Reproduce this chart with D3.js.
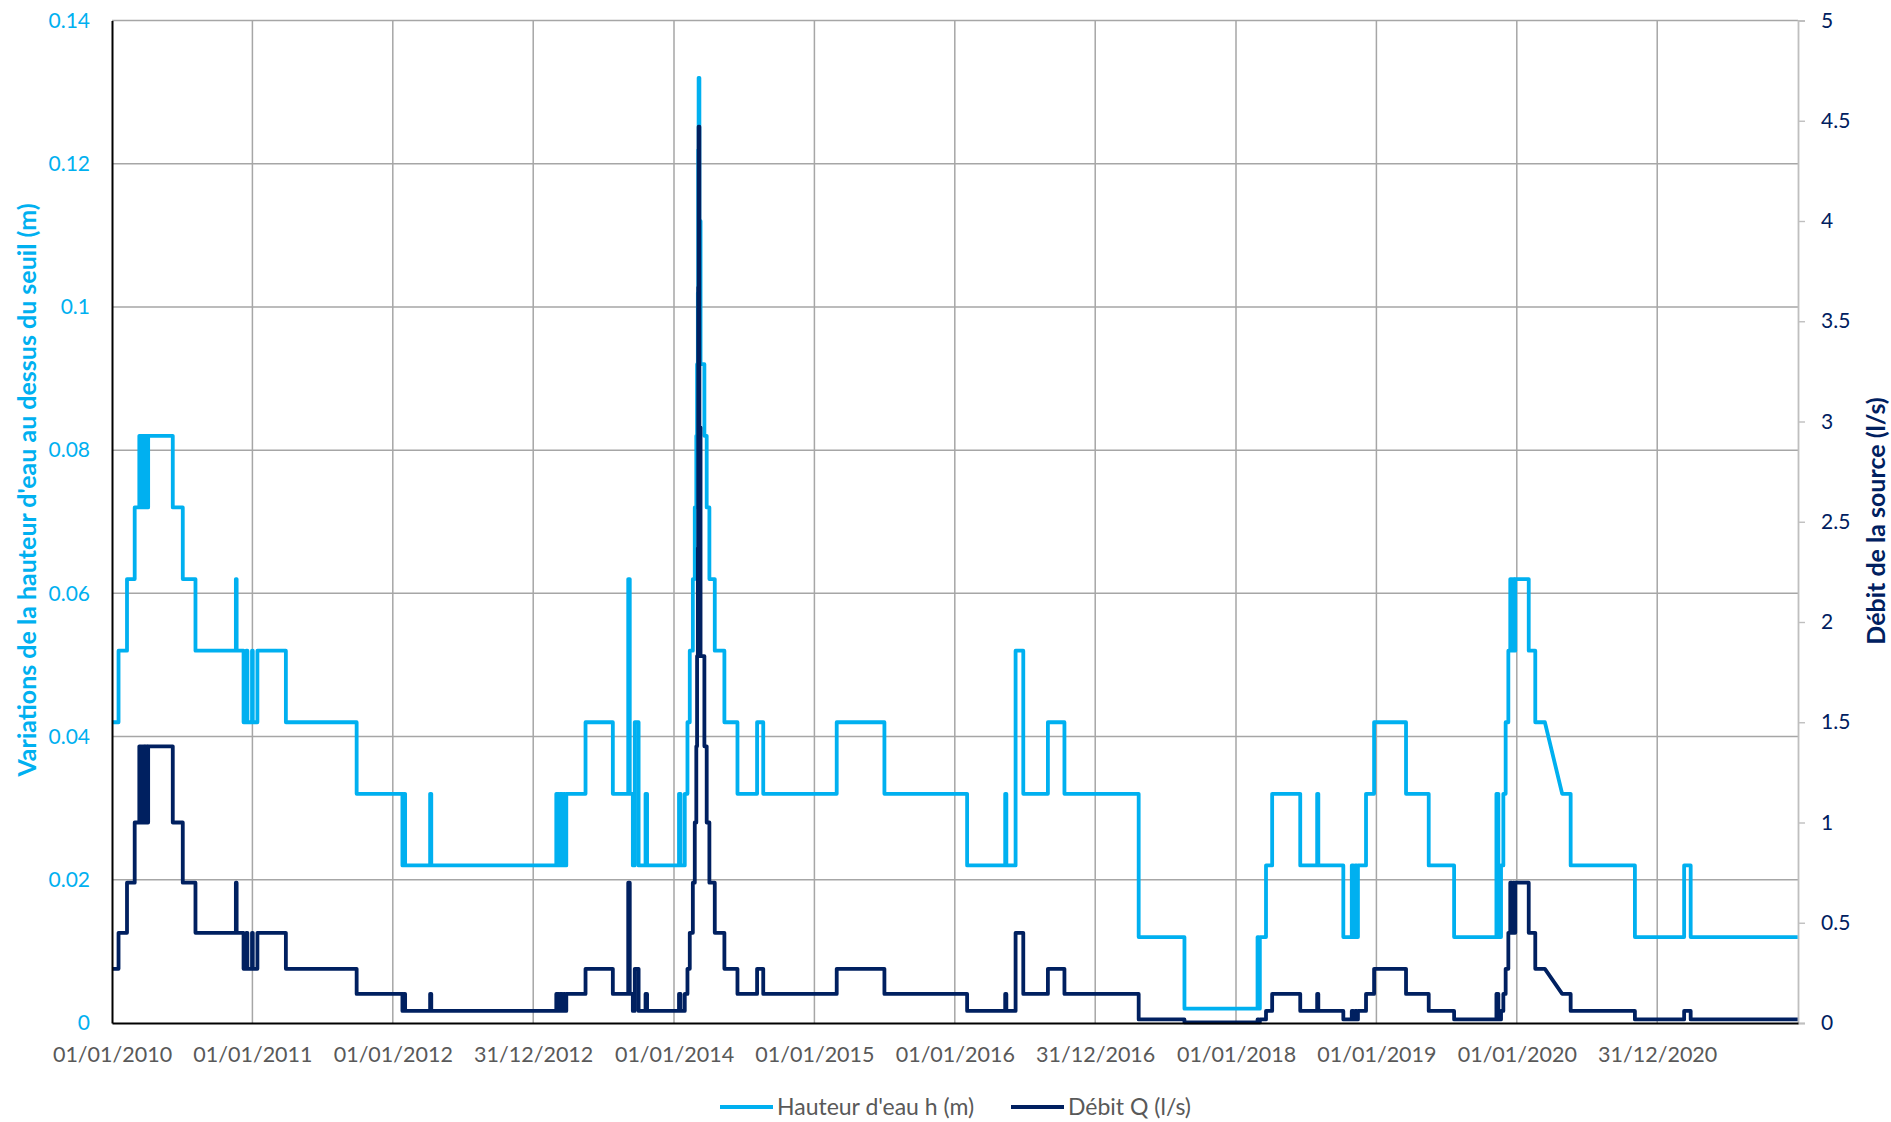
<!DOCTYPE html>
<html>
<head>
<meta charset="utf-8">
<script src="https://cdn.jsdelivr.net/npm/d3@7"></script>
<style>
body { margin: 0; background: #fff; }
text { font-family: Lato, "Open Sans", sans-serif; }
</style>
</head>
<body>
<script>
// change points of the record (the value holds until the next date)
var dates = [
  "2010-01-01","2010-01-18","2010-02-09","2010-03-01","2010-03-13","2010-03-18","2010-03-22","2010-03-26","2010-03-29","2010-04-02",
  "2010-04-05","2010-06-08","2010-07-04","2010-08-06","2010-11-19","2010-11-21","2010-12-09","2010-12-16","2010-12-19","2010-12-31",
  "2011-01-02","2011-01-14","2011-03-29","2011-09-29","2012-01-26","2012-01-30","2012-02-02","2012-04-07","2012-04-10","2013-03-01",
  "2013-03-08","2013-03-12","2013-03-17","2013-03-20","2013-03-24","2013-03-27","2013-05-16","2013-07-26","2013-09-04","2013-09-08",
  "2013-09-16","2013-09-21","2013-10-01","2013-10-19","2013-10-23","2014-01-14","2014-01-18","2014-01-29","2014-02-05","2014-02-11",
  "2014-02-19","2014-02-24","2014-02-28","2014-03-02","2014-03-04","2014-03-05","2014-03-06","2014-03-08","2014-03-11","2014-03-21",
  "2014-03-27","2014-04-03","2014-04-17","2014-05-12","2014-06-15","2014-08-05","2014-08-21","2015-02-28","2015-07-02","2016-02-02",
  "2016-05-11","2016-05-14","2016-06-07","2016-06-27","2016-08-30","2016-10-12","2017-04-23","2017-08-20","2018-02-26","2018-03-01",
  "2018-03-04","2018-03-20","2018-04-05","2018-06-17","2018-07-31","2018-08-03","2018-10-07","2018-10-29","2018-11-02","2018-11-07",
  "2018-11-11","2018-11-14","2018-12-05","2018-12-26","2019-03-19","2019-05-17","2019-07-22","2019-11-09","2019-11-14","2019-11-21",
  "2019-11-27","2019-12-03","2019-12-10","2019-12-15","2019-12-19","2019-12-23","2019-12-25","2019-12-28","2020-02-01","2020-02-18",
  "2020-03-14","2020-04-28","2020-05-20","2020-11-03","2021-03-11","2021-03-28","2021-12-31"
];

var hauteur = [
  0.042,0.052,0.062,0.072,0.082,0.072,0.082,0.072,0.082,0.072,
  0.082,0.072,0.062,0.052,0.062,0.052,0.042,0.052,0.042,0.052,
  0.042,0.052,0.042,0.032,0.022,0.032,0.022,0.032,0.022,0.032,
  0.022,0.032,0.022,0.032,0.022,0.032,0.042,0.032,0.062,0.032,
  0.022,0.042,0.022,0.032,0.022,0.032,0.022,0.032,0.042,0.052,
  0.062,0.072,0.082,0.092,0.102,0.122,0.132,0.112,0.092,0.082,
  0.072,0.062,0.052,0.042,0.032,0.042,0.032,0.042,0.032,0.022,
  0.032,0.022,0.052,0.032,0.042,0.032,0.012,0.002,0.012,0.002,
  0.012,0.022,0.032,0.022,0.032,0.022,0.012,0.022,0.012,0.022,
  0.012,0.022,0.032,0.042,0.032,0.022,0.012,0.032,0.012,0.022,
  0.032,0.042,0.052,0.062,0.052,0.062,0.052,0.062,0.052,0.042,
  0.042,0.032,0.022,0.012,0.022,0.012,0.012
];

var debit = [
  0.27,0.45,0.70,1.0,1.38,1.0,1.38,1.0,1.38,1.0,
  1.38,1.0,0.70,0.45,0.70,0.45,0.27,0.45,0.27,0.45,
  0.27,0.45,0.27,0.145,0.06,0.145,0.06,0.145,0.06,0.145,
  0.06,0.145,0.06,0.145,0.06,0.145,0.27,0.145,0.70,0.145,
  0.06,0.27,0.06,0.145,0.06,0.145,0.06,0.145,0.27,0.45,
  0.70,1.0,1.38,1.83,2.37,3.67,4.47,2.97,1.83,1.38,
  1.0,0.70,0.45,0.27,0.145,0.27,0.145,0.27,0.145,0.06,
  0.145,0.06,0.45,0.145,0.27,0.145,0.018,0.003,0.018,0.003,
  0.018,0.06,0.145,0.06,0.145,0.06,0.018,0.06,0.018,0.06,
  0.018,0.06,0.145,0.27,0.145,0.06,0.018,0.145,0.018,0.06,
  0.145,0.27,0.45,0.70,0.45,0.70,0.45,0.70,0.45,0.27,
  0.27,0.145,0.06,0.018,0.06,0.018,0.018
];

// where the record has a gap, Excel joins the points with a straight line
var rampDates = ["2020-04-28"];

var xTickLabels = ["01/01/2010","01/01/2011","01/01/2012","31/12/2012","01/01/2014","01/01/2015",
                   "01/01/2016","31/12/2016","01/01/2018","01/01/2019","01/01/2020","31/12/2020"];
var hTicks = [0, 0.02, 0.04, 0.06, 0.08, 0.1, 0.12, 0.14];
var qTicks = [0, 0.5, 1, 1.5, 2, 2.5, 3, 3.5, 4, 4.5, 5];

var seriesNames = ["Hauteur d'eau h (m)", "Débit Q (l/s)"];
var colH = "#00b0f0", colQ = "#002060";

var svg = d3.select("body")
    .append("svg")
    .attr("width", "1891")
    .attr("height", "1122")
    .style("display", "block");
var margin = {top: 20.5, right: 93, bottom: 99, left: 112};
var width = +svg.attr("width") - margin.left - margin.right;
var height = +svg.attr("height") - margin.top - margin.bottom;
var g = svg.append("g").attr("transform", "translate(" + margin.left + "," + margin.top + ")");

var parseDay = d3.utcParse("%Y-%m-%d");
var parseLabel = d3.utcParse("%d/%m/%Y");
var fmtNum = d3.format("~g");

var x = d3.scaleUtc()
    .domain([parseDay("2010-01-01"), parseDay("2022-01-01")])
    .range([0, width]);
var yH = d3.scaleLinear().domain([0, 0.14]).range([height, 0]);
var yQ = d3.scaleLinear().domain([0, 5]).range([height, 0]);

var xTicks = xTickLabels.map(function(s) { return parseLabel(s); });

// gridlines
g.append("g")
    .selectAll("line.h")
    .data(hTicks.slice(1))
    .enter().append("line")
    .attr("x1", 0).attr("x2", width)
    .attr("y1", function(d) { return yH(d); })
    .attr("y2", function(d) { return yH(d); })
    .attr("stroke", "#a6a6a6")
    .attr("stroke-width", 1.5);
g.append("g")
    .selectAll("line.v")
    .data(xTicks.slice(1))
    .enter().append("line")
    .attr("x1", function(d) { return x(d); })
    .attr("x2", function(d) { return x(d); })
    .attr("y1", 0).attr("y2", height)
    .attr("stroke", "#a6a6a6")
    .attr("stroke-width", 1.5);

// step lines
function stepPoints(vals) {
    var pts = [];
    dates.forEach(function(d, i) {
        var t = parseDay(d);
        if (i > 0 && rampDates.indexOf(d) < 0) pts.push([t, vals[i - 1]]);
        pts.push([t, vals[i]]);
    });
    return pts;
}

var lineH = d3.line()
    .x(function(p) { return x(p[0]); })
    .y(function(p) { return yH(p[1]); });
var lineQ = d3.line()
    .x(function(p) { return x(p[0]); })
    .y(function(p) { return yQ(p[1]); });

// right axis (grey, with outer ticks)
var yAxisRight = d3.axisRight(yQ)
    .tickValues(qTicks)
    .tickSize(7)
    .tickPadding(16)
    .tickFormat(fmtNum);
var ra = g.append("g")
    .attr("transform", "translate(" + width + ",0)")
    .call(yAxisRight);
ra.select(".domain").attr("stroke", "#bfbfbf").attr("stroke-width", 1.8);
ra.selectAll(".tick line").attr("stroke", "#bfbfbf").attr("stroke-width", 1.4);
ra.selectAll("text")
    .attr("fill", colQ)
    .style("font-size", "21px");

g.append("path")
    .datum(stepPoints(hauteur))
    .attr("d", lineH)
    .attr("fill", "none")
    .attr("stroke", colH)
    .attr("stroke-width", 3.8)
    .attr("stroke-linejoin", "round");

g.append("path")
    .datum(stepPoints(debit))
    .attr("d", lineQ)
    .attr("fill", "none")
    .attr("stroke", colQ)
    .attr("stroke-width", 3.8)
    .attr("stroke-linejoin", "round");

// left axis
var yAxisLeft = d3.axisLeft(yH)
    .tickValues(hTicks)
    .tickSize(0)
    .tickPadding(22)
    .tickFormat(fmtNum);
var la = g.append("g").call(yAxisLeft);
la.select(".domain").attr("stroke", "#000").attr("stroke-width", 2);
la.selectAll("text")
    .attr("fill", colH)
    .style("font-size", "21px");

// bottom axis
var xAxis = d3.axisBottom(x)
    .tickValues(xTicks)
    .tickSize(0)
    .tickPadding(24)
    .tickFormat(d3.utcFormat("%d/%m/%Y"));
var xa = g.append("g")
    .attr("transform", "translate(0," + height + ")")
    .call(xAxis);
xa.select(".domain").attr("stroke", "#000").attr("stroke-width", 2);
xa.selectAll("text")
    .attr("fill", "#595959")
    .style("font-size", "21.5px");

// axis titles
svg.append("text")
    .attr("transform", "translate(27,490) rotate(-90)")
    .attr("text-anchor", "middle")
    .attr("dy", "0.35em")
    .attr("fill", colH)
    .style("font-size", "25px")
    .style("font-weight", "bold")
    .text("Variations de la hauteur d'eau au dessus du seuil (m)");

svg.append("text")
    .attr("transform", "translate(1876,521) rotate(-90)")
    .attr("text-anchor", "middle")
    .attr("dy", "0.35em")
    .attr("fill", colQ)
    .style("font-size", "25px")
    .style("font-weight", "bold")
    .text("Débit de la source (l/s)");

// legend
var legendX = [720, 1011];
var legend = svg.append("g");
seriesNames.forEach(function(name, i) {
    var lx = legendX[i];
    legend.append("line")
        .attr("x1", lx).attr("x2", lx + 53)
        .attr("y1", 1107).attr("y2", 1107)
        .attr("stroke", i === 0 ? colH : colQ)
        .attr("stroke-width", 3.8);
    legend.append("text")
        .attr("x", lx + 57)
        .attr("y", 1107)
        .attr("dy", "0.35em")
        .attr("fill", "#595959")
        .style("font-size", "23px")
        .text(name);
});
</script>
</body>
</html>
